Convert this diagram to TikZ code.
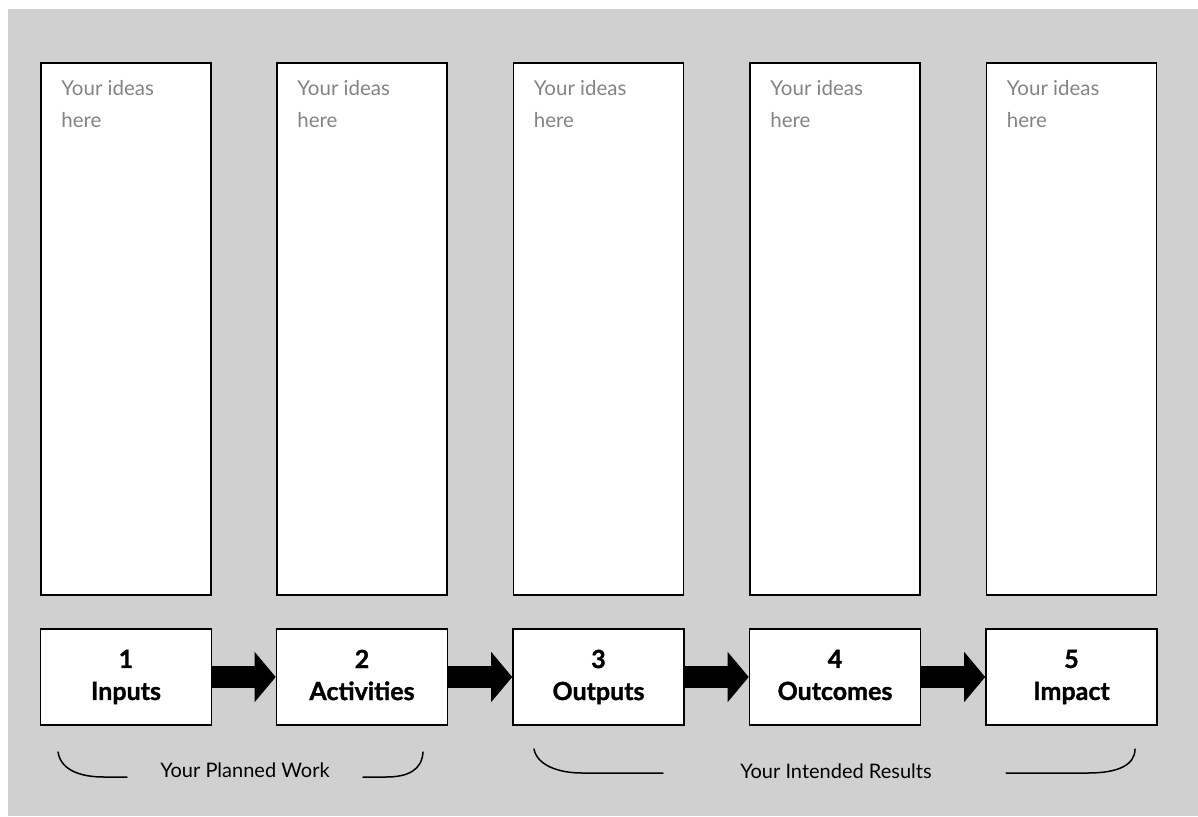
\documentclass[tikz,border=0pt]{standalone}
\usepackage{fontspec}
\setmainfont{Lato}
\newfontfamily\heavyfont[BoldFeatures={FakeBold=1.2}]{Lato}
\usetikzlibrary{arrows.meta,calc}
\definecolor{bggray}{RGB}{208,208,208}
\definecolor{ideagray}{RGB}{132,132,132}
\newcommand\steplabel[2]{#1\\#2\vphantom{p}}
\tikzset{
  colbox/.style={draw=black, fill=white, line width=1.6pt, minimum width=170pt, minimum height=532pt, inner sep=0pt, anchor=north},
  stepbox/.style={draw=black, fill=white, line width=1.6pt, minimum width=171pt, minimum height=96pt, inner sep=0pt, align=center, font=\heavyfont\fontsize{25}{32}\selectfont\bfseries},
  idea/.style={anchor=north west, inner sep=0pt, align=left, text=ideagray, font=\fontsize{20.5}{32}\selectfont},
  flow/.style={line width=22pt, -{Triangle[length=21pt,width=49pt]}},
  brace/.style={line width=1.5pt, line cap=round},
  bracetext/.style={anchor=base, inner sep=0pt, font=\fontsize{20}{24}\selectfont}
}
\begin{document}
\begin{tikzpicture}[x=1pt,y=-1pt]
\useasboundingbox (0,0) rectangle (1198,816);
\fill[bggray] (8,9) rectangle (1198,816);
% top columns
\node[colbox] (t1) at (126,62) {};
\node[colbox] (t2) at (362,62) {};
\node[colbox] (t3) at (598.5,62) {};
\node[colbox] (t4) at (835,62) {};
\node[colbox] (t5) at (1071.5,62) {};
\foreach \i in {1,...,5}{
  \node[idea] (i\i) at ($(t\i.north west)+(21,18)$) {Your ideas\\here};
}
% step boxes
\node[stepbox] (b1) at (126,677) {\steplabel{1}{Inputs}};
\node[stepbox] (b2) at (362,677) {\steplabel{2}{Activities}};
\node[stepbox] (b3) at (598.5,677) {\steplabel{3}{Outputs}};
\node[stepbox] (b4) at (835,677) {\steplabel{4}{Outcomes}};
\node[stepbox] (b5) at (1071.5,677) {\steplabel{5}{Impact}};
% arrows
\draw[flow] (b1.east) -- (b2.west);
\draw[flow] (b2.east) -- (b3.west);
\draw[flow] (b3.east) -- (b4.west);
\draw[flow] (b4.east) -- (b5.west);
% brackets
\draw[brace] (58,752) .. controls (61,771) and (82,777) .. (104,777) -- (127,777);
\draw[brace] (363,777) -- (386,777) .. controls (408,777) and (422,770) .. (423,752);
\node[bracetext] (pw) at (245,777) {Your Planned Work};
\draw[brace] (534,749) .. controls (537,765) and (558,773) .. (582,773) -- (663,773);
\draw[brace] (1006,773) -- (1088,773) .. controls (1118,773) and (1135,765) .. (1135,749);
\node[bracetext] (ir) at (836,778) {Your Intended Results};
\end{tikzpicture}
\end{document}
